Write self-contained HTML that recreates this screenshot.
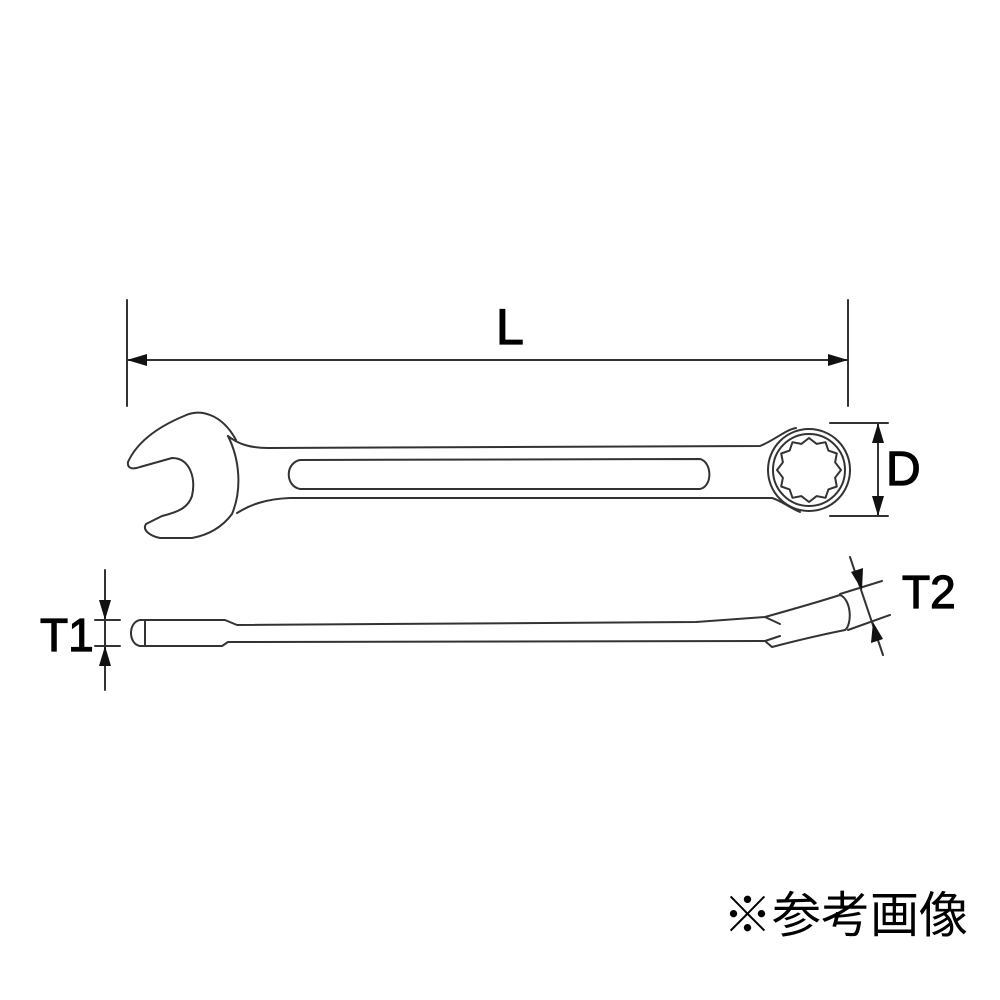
<!DOCTYPE html>
<html><head><meta charset="utf-8"><style>
html,body{margin:0;padding:0;background:#fff;}
svg{display:block;}
text{font-family:"Liberation Sans",Arial,sans-serif;fill:#000;}
.lb{stroke:#000;stroke-width:1.2px;}
</style></head><body>
<svg width="1000" height="1000" viewBox="0 0 1000 1000" xmlns="http://www.w3.org/2000/svg">
<g stroke="#333" stroke-width="2" fill="none" stroke-linejoin="round" stroke-linecap="round">
  <line x1="127" y1="300" x2="127" y2="406"/>
  <line x1="848" y1="300" x2="848" y2="406"/>
  <line x1="127" y1="360" x2="848" y2="360"/>
  <line x1="830" y1="423" x2="888" y2="423"/>
  <line x1="830" y1="516" x2="888" y2="516"/>
  <line x1="878" y1="423" x2="878" y2="516"/>
  <path d="M236,440 C222,414 200,408 184,416 C160,426 138,440 128,462 C127,468 132,470 140,467 L172,458 C190,458 196,478 192,496 C188,508 178,512 162,516 L146,524 C142,530 150,536 160,538 L192,538 C214,534 226,522 232,514 C242,490 240,460 228,436"/>
  <path d="M228,436 C238,444 250,448 268,448 L760,446 C775,440 785,430 796,428"/>
  <path d="M237,513 C250,505 265,499 290,498 L772,498 C780,500 790,508 800,512"/>
  <path d="M300,460 L700,459 C712,462 713,486 700,489 L300,489 C285,486 285,463 300,460 Z"/>
  <circle cx="809" cy="470" r="41"/>
  <circle cx="809" cy="470" r="36"/>
  <polygon points="841,470 835.1,477.7 836.8,486.5 828.4,489.4 825.5,497.8 816.7,496.1 809,502 801.3,496.1 792.5,497.8 789.6,489.4 781.2,486.5 782.9,477.7 777,470 782.9,462.3 781.2,453.5 789.6,450.6 792.5,442.2 801.3,443.9 809,438 816.7,443.9 825.5,442.2 828.4,450.6 836.8,453.5 835.1,462.3"/>
  <line x1="105" y1="570" x2="105" y2="690"/>
  <line x1="95" y1="620" x2="120" y2="620"/>
  <line x1="95" y1="646" x2="120" y2="646"/>
  <path d="M140,620 L225,620 L237,625 L696,622 L765,617 C790,610 815,603 840,595 C852,600 852,625 845,630 C820,635 795,641 772,647 L765,641 L228,642 L222,646 L140,646 C128,644 128,622 140,620 Z"/>
  <line x1="145" y1="620" x2="145" y2="646"/>
  <line x1="765" y1="617" x2="780" y2="624"/>
  <line x1="765" y1="641" x2="780" y2="636"/>
  <line x1="850" y1="557" x2="883" y2="655"/>
  <line x1="840" y1="594" x2="882" y2="581"/>
  <line x1="848" y1="630" x2="890" y2="615"/>
</g>
<g fill="#111">
  <polygon points="127,360 147,354 147,366"/>
  <polygon points="848,360 828,354 828,366"/>
  <polygon points="878,423 872,443 884,443"/>
  <polygon points="878,516 872,496 884,496"/>
  <polygon points="105,620 99,600 111,600"/>
  <polygon points="105,646 99,666 111,666"/>
  <polygon points="862,590 851,572 863,568"/>
  <polygon points="873,622 871,643 883,639"/>
</g>
<text class="lb" x="496" y="344" font-size="50">L</text>
<text class="lb" x="886" y="485" font-size="48">D</text>
<text class="lb" x="40" y="651" font-size="46">T1</text>
<text class="lb" x="902" y="608" font-size="46">T2</text>
<text x="723" y="932" font-size="49" style='font-family:"Liberation Sans","Noto Sans CJK JP",sans-serif;'>※参考画像</text>
</svg>
</body></html>
